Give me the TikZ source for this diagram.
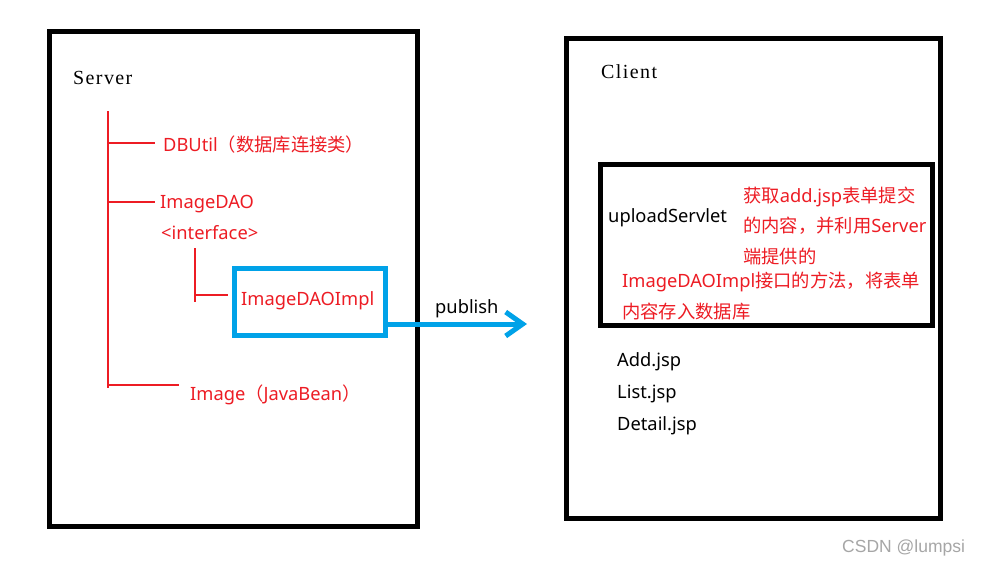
\documentclass[tikz,border=0pt]{standalone}
\usepackage{fontspec}
\usetikzlibrary{arrows.meta}
\newfontfamily\lat{Noto Sans}
\newfontfamily\cjk{Noto Sans CJK SC}
\newfontfamily\monof[LetterSpace=7]{Liberation Serif}
\newfontfamily\wm{Liberation Sans}
\definecolor{paintred}{HTML}{ED1C24}
\definecolor{paintblue}{HTML}{00A2E8}
\definecolor{wmgray}{HTML}{A6A6A6}
\tikzset{
  frame/.style={draw=black, line width=5pt, inner sep=0pt, rectangle},
  bluebox/.style={draw=paintblue, line width=5pt, inner sep=0pt, rectangle},
  redtxt/.style={text=paintred, inner sep=0pt, anchor=base west, font=\fontsize{18.3pt}{22pt}\selectfont\lat},
  blktxt/.style={text=black, inner sep=0pt, anchor=base west, font=\fontsize{18.3pt}{22pt}\selectfont\lat},
  monotxt/.style={text=black, inner sep=0pt, anchor=base west, font=\fontsize{20pt}{24pt}\selectfont\monof},
  tree/.style={draw=paintred, line width=1.3pt},
  publine/.style={draw=paintblue, line width=5pt, -{Straight Barb[length=17pt,width=24pt]}}
}
\begin{document}
\begin{tikzpicture}[x=1pt,y=-1pt]
\path[fill=white, use as bounding box] (0,0) rectangle (984,565);

% Server side
\node[frame, minimum width=368pt, minimum height=495.5pt] (server) at (233.5,278.75) {};
\node[monotxt] (servertxt) at (73,84) {Server};

\coordinate (t0) at (108,111);
\coordinate (t1) at (108,388);
\coordinate (b1) at (155,143);
\coordinate (b2) at (155,202);
\coordinate (b3) at (179,385);
\coordinate (s0) at (195,248);
\coordinate (s1) at (195,302);
\coordinate (s2) at (228,295);
\draw[tree] (t0) -- (t1);
\draw[tree] (t0 |- b1) -- (b1);
\draw[tree] (t0 |- b2) -- (b2);
\draw[tree] (t0 |- b3) -- (b3);
\draw[tree] (s0) -- (s1);
\draw[tree] (s0 |- s2) -- (s2);

\node[redtxt] (dbutil) at (163,151) {DBUtil{\cjk（数据库连接类）}};
\node[redtxt] (imagedao) at (160,208) {ImageDAO};
\node[redtxt] (iface) at (161,239) {<interface>};
\node[bluebox, minimum width=151pt, minimum height=67pt] (impl) at (310,302) {};
\node[redtxt] (impltxt) at (241,305) {ImageDAOImpl};
\node[redtxt] (image) at (190,400) {Image{\cjk（}JavaBean{\cjk）}};

% publish arrow
\coordinate (pubend) at (527,324);
\draw[publine] ([yshift=-22pt]impl.east) -- (pubend);
\node[blktxt] (publish) at (435,313) {publish};

% Client side
\node[frame, minimum width=373.5pt, minimum height=480.5pt] (client) at (753.25,278.25) {};
\node[monotxt] (clienttxt) at (601,78) {Client};
\node[frame, minimum width=332pt, minimum height=161pt] (servlet) at (766.5,245) {};
\node[blktxt] (servlettxt) at (608,222) {uploadServlet};
\node[redtxt] (d1) at (743,202) {{\cjk 获取}add.jsp{\cjk 表单提交}};
\node[redtxt] (d2) at (743,232) {{\cjk 的内容，并利用}Server};
\node[redtxt] (d3) at (743,263) {{\cjk 端提供的}};
\node[redtxt] (d4) at (622,287) {ImageDAOImpl{\cjk 接口的方法，将表单}};
\node[redtxt] (d5) at (622,318) {{\cjk 内容存入数据库}};

\node[blktxt] (add) at (617,366) {Add.jsp};
\node[blktxt] (list) at (617,398) {List.jsp};
\node[blktxt] (detail) at (617,430) {Detail.jsp};

\node[inner sep=0pt, anchor=base west, text=wmgray, font=\fontsize{17.5pt}{21pt}\selectfont\wm] (wm) at (842,552) {CSDN @lumpsi};
\end{tikzpicture}
\end{document}
